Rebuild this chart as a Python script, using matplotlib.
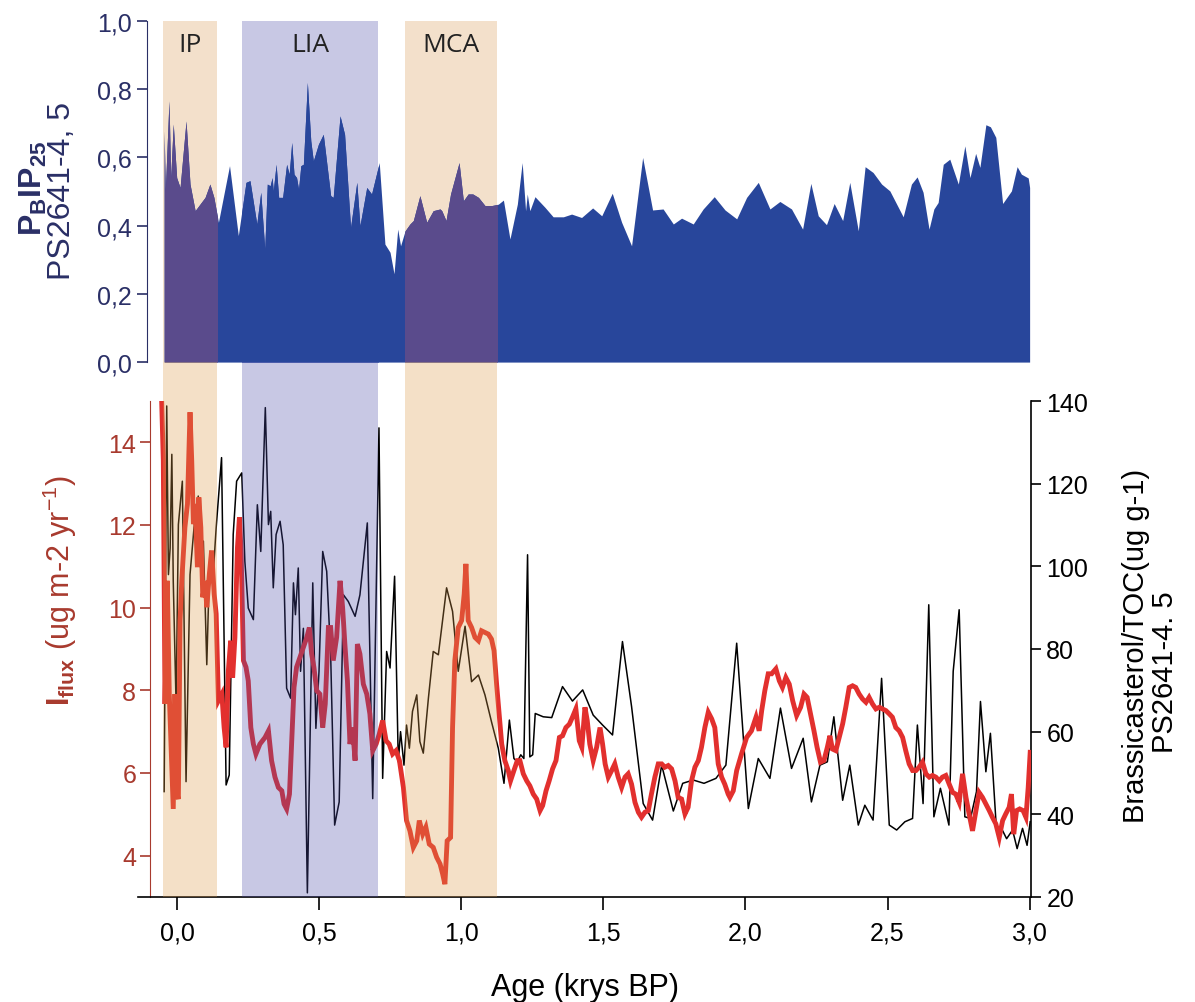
import numpy as np
import matplotlib
matplotlib.use('Agg')
import matplotlib.pyplot as plt
from matplotlib.patches import Rectangle

plt.rcParams['font.family'] = ['Liberation Sans', 'DejaVu Sans']
plt.rcParams['mathtext.fontset'] = 'custom'
plt.rcParams['mathtext.rm'] = 'Liberation Sans'
plt.rcParams['mathtext.bf'] = 'Liberation Sans:bold'
plt.rcParams['mathtext.it'] = 'Liberation Sans:italic'

#%% PBIP25, PS2641-4/5
pb_age = [-0.046, -0.042, -0.029, -0.023, -0.014, -0.002, 0.010, 0.031, 0.045, 0.063,
          0.080, 0.098, 0.115, 0.129, 0.145, 0.184, 0.215, 0.242, 0.256, 0.280,
          0.294, 0.308, 0.317, 0.327, 0.334, 0.338, 0.348, 0.357, 0.371, 0.385,
          0.394, 0.403, 0.411, 0.420, 0.427, 0.435, 0.444, 0.458, 0.470, 0.479,
          0.497, 0.514, 0.540, 0.549, 0.573, 0.589, 0.610, 0.632, 0.643, 0.667,
          0.684, 0.711, 0.731, 0.749, 0.763, 0.776, 0.786, 0.802, 0.819, 0.831,
          0.854, 0.878, 0.901, 0.925,
          0.931, 0.946, 0.962, 0.992, 1.007, 1.024, 1.040, 1.060, 1.083, 1.107,
          1.130, 1.148, 1.171, 1.197, 1.214, 1.226, 1.232, 1.241, 1.259, 1.294,
          1.323, 1.359, 1.388, 1.423, 1.462, 1.494, 1.531, 1.564, 1.599, 1.638,
          1.673, 1.710, 1.746, 1.775, 1.816, 1.851, 1.890, 1.928, 1.969,
          2.004, 2.045, 2.086, 2.121, 2.162, 2.201, 2.230, 2.256, 2.285, 2.312,
          2.342, 2.367, 2.397, 2.421, 2.449, 2.479, 2.508, 2.555, 2.584, 2.604,
          2.625, 2.646, 2.663, 2.678, 2.696, 2.719, 2.749, 2.772, 2.790, 2.810,
          2.825, 2.846, 2.862, 2.881, 2.905, 2.936, 2.956, 2.971, 2.995, 3.000]
pb_val = [0.678, 0.502, 0.766, 0.541, 0.698, 0.541, 0.512, 0.707, 0.522, 0.444,
          0.463, 0.483, 0.522, 0.483, 0.410, 0.576, 0.371, 0.527, 0.532, 0.405,
          0.498, 0.332, 0.522, 0.517, 0.541, 0.502, 0.580, 0.483, 0.483, 0.580,
          0.551, 0.644, 0.551, 0.541, 0.507, 0.576, 0.580, 0.820, 0.649, 0.590,
          0.639, 0.668, 0.488, 0.483, 0.722, 0.668, 0.395, 0.527, 0.400, 0.512,
          0.493, 0.585, 0.346, 0.322, 0.259, 0.390, 0.341, 0.385, 0.405, 0.415,
          0.488, 0.410, 0.444, 0.449,
          0.444, 0.415, 0.493, 0.585, 0.473, 0.493, 0.493, 0.483, 0.459, 0.459,
          0.463, 0.475, 0.361, 0.463, 0.585, 0.444, 0.493, 0.444, 0.485, 0.454,
          0.426, 0.426, 0.434, 0.424, 0.452, 0.429, 0.495, 0.410, 0.341, 0.600,
          0.446, 0.449, 0.405, 0.422, 0.405, 0.449, 0.485, 0.446, 0.420,
          0.483, 0.527, 0.449, 0.471, 0.449, 0.390, 0.524, 0.429, 0.403, 0.465,
          0.415, 0.527, 0.385, 0.573, 0.556, 0.522, 0.502, 0.426, 0.522, 0.543,
          0.498, 0.390, 0.449, 0.468, 0.580, 0.595, 0.522, 0.634, 0.541, 0.612,
          0.571, 0.696, 0.690, 0.659, 0.465, 0.502, 0.573, 0.551, 0.540, 0.512]

#%% Iflux (left axis)
iflux_age = [-0.055, -0.049, -0.043, -0.035, -0.028, -0.020, -0.014, -0.008, -0.002, 0.004,
             0.010, 0.016, 0.027, 0.036, 0.045, 0.051, 0.057, 0.063, 0.071, 0.076,
             0.083, 0.090, 0.098, 0.104, 0.113, 0.121, 0.130, 0.137, 0.145, 0.157,
             0.165, 0.172, 0.180, 0.188, 0.195, 0.203, 0.212, 0.219, 0.225, 0.233,
             0.242, 0.250, 0.259, 0.268, 0.277, 0.291, 0.309, 0.321, 0.332, 0.344,
             0.356, 0.368, 0.376, 0.385, 0.395, 0.403, 0.411, 0.420, 0.432, 0.444,
             0.456, 0.465, 0.473, 0.481, 0.491, 0.502, 0.512, 0.521, 0.532, 0.540,
             0.549, 0.561, 0.573, 0.582, 0.590, 0.599, 0.608, 0.617, 0.626, 0.634,
             0.643, 0.655, 0.667, 0.678, 0.688, 0.700, 0.711, 0.723, 0.735, 0.746,
             0.758, 0.770, 0.782, 0.796, 0.807, 0.819, 0.831, 0.843, 0.852, 0.864,
             0.875, 0.887, 0.901, 0.913, 0.925,
             0.934, 0.942, 0.950, 0.962, 0.969, 0.977, 0.989, 1.001, 1.010, 1.016,
             1.024, 1.036, 1.048, 1.060, 1.071, 1.083, 1.095, 1.106, 1.115, 1.124,
             1.133, 1.142, 1.153, 1.165, 1.173, 1.185, 1.197, 1.206, 1.218, 1.230,
             1.241, 1.253, 1.265, 1.277, 1.286, 1.298, 1.309, 1.321, 1.333, 1.345,
             1.356, 1.368, 1.380, 1.391, 1.403, 1.415, 1.424, 1.435, 1.443, 1.452,
             1.464, 1.476, 1.488, 1.497, 1.506, 1.517, 1.529, 1.540, 1.552, 1.564,
             1.576, 1.587, 1.599, 1.611, 1.623, 1.634, 1.646, 1.658, 1.669, 1.681,
             1.693, 1.705, 1.716, 1.728, 1.740, 1.752, 1.763, 1.775, 1.787, 1.798,
             1.810, 1.822, 1.834, 1.845, 1.857, 1.869, 1.881, 1.892, 1.904, 1.916,
             1.927, 1.939,
             1.945, 1.957, 1.969, 1.986, 2.004, 2.021, 2.037, 2.048, 2.057, 2.068,
             2.080, 2.092, 2.107, 2.119, 2.130, 2.142, 2.154, 2.166, 2.180, 2.194,
             2.206, 2.217, 2.229, 2.241, 2.252, 2.264, 2.276, 2.288, 2.297, 2.306,
             2.318, 2.330, 2.342, 2.353, 2.365, 2.377, 2.388, 2.400, 2.412, 2.424,
             2.435, 2.447, 2.459, 2.471, 2.482, 2.494, 2.506, 2.517, 2.529, 2.541,
             2.553, 2.564, 2.576, 2.588, 2.600, 2.611, 2.623, 2.635, 2.647, 2.658,
             2.670, 2.682, 2.693, 2.705, 2.717, 2.729, 2.740, 2.752, 2.764, 2.776,
             2.787, 2.799, 2.811, 2.822, 2.834, 2.846, 2.858, 2.869, 2.881, 2.893,
             2.905, 2.916, 2.928, 2.936, 2.944, 2.954, 2.965, 2.977, 2.987, 2.995,
             3.002]
iflux_val = [15.05, 13.56, 7.67, 10.65, 7.91, 6.30, 5.13, 7.91, 5.49, 5.37,
             9.69, 10.65, 11.94, 12.51, 14.73, 13.56, 12.02, 12.51, 10.98, 12.67,
             11.94, 10.25, 10.65, 10.01, 10.81, 11.38, 10.33, 9.85, 7.75, 7.91,
             7.10, 6.62, 8.48, 9.20, 8.31, 9.28, 11.46, 12.19, 11.30, 8.72,
             8.56, 8.23, 7.10, 6.70, 6.46, 6.70, 6.86, 7.02, 6.30, 5.90,
             5.65, 5.57, 5.25, 5.13, 5.49, 6.78, 8.07, 8.56, 8.80, 9.04,
             9.28, 9.52, 8.88, 8.56, 7.99, 7.91, 7.10, 7.67, 9.52, 9.52,
             8.72, 9.28, 10.65, 10.01, 9.12, 8.23, 6.70, 7.10, 6.30, 9.12,
             8.88, 8.15, 7.91, 7.43, 6.54, 6.70, 6.94, 7.27, 6.78, 6.70,
             6.46, 6.54, 6.30, 5.65, 4.85, 4.60, 4.20, 4.36, 4.85, 4.52,
             4.69, 4.28, 4.20, 3.96, 3.80,
             3.56, 3.31, 4.36, 4.44, 7.10, 8.72, 9.52, 9.69, 10.33, 11.06,
             9.69, 9.52, 9.28, 9.20, 9.44, 9.40, 9.36, 9.24, 8.96, 8.15,
             7.43, 6.70, 6.30, 6.06, 5.81, 6.06, 6.30, 6.30, 5.98, 5.81,
             5.69, 5.49, 5.37, 5.09, 5.21, 5.57, 5.81, 6.10, 6.30, 6.86,
             6.90, 7.10, 7.18, 7.35, 7.55, 6.78, 6.62, 7.59, 7.27, 6.70,
             6.30, 6.62, 7.10, 6.70, 6.22, 5.90, 6.06, 6.22, 5.90, 5.65,
             5.90, 5.98, 5.73, 5.29, 5.05, 4.93, 5.05, 5.09, 5.49, 5.90,
             6.22, 6.22, 6.14, 6.18, 6.10, 5.81, 5.41, 5.37, 5.01, 5.17,
             5.81, 6.14, 6.30, 6.62, 7.10, 7.47, 7.31, 7.10, 6.22, 5.90,
             5.73, 5.49,
             5.41, 5.57, 6.06, 6.46, 6.86, 7.02, 7.35, 7.02, 7.51, 7.99,
             8.40, 8.40, 8.52, 8.23, 8.07, 8.31, 8.15, 7.75, 7.39, 7.59,
             7.91, 7.83, 7.43, 7.02, 6.62, 6.26, 6.30, 6.62, 6.90, 6.58,
             6.54, 6.86, 7.19, 7.59, 8.07, 8.11, 8.07, 7.91, 7.79, 7.71,
             7.83, 7.67, 7.55, 7.59, 7.55, 7.51, 7.43, 7.35, 7.10, 7.02,
             6.86, 6.54, 6.22, 6.06, 6.06, 6.14, 6.26, 5.98, 5.90, 5.94,
             5.90, 5.81, 5.90, 5.94, 5.73, 5.53, 5.49, 5.29, 5.98, 5.41,
             5.01, 4.60, 5.09, 5.53, 5.41, 5.25, 5.09, 4.93, 4.77, 4.44,
             4.85, 5.01, 5.17, 5.49, 4.52, 5.09, 5.13, 5.09, 4.93, 5.65,
             6.50]

#%% Brassicasterol/TOC (right axis)
brass_age = [-0.046, -0.037, -0.031, -0.025, -0.019, -0.014, -0.004, 0.004, 0.018, 0.031,
             0.045, 0.059, 0.074, 0.083, 0.092, 0.104, 0.115, 0.125, 0.137, 0.156,
             0.172, 0.183, 0.197, 0.209, 0.227, 0.238, 0.250, 0.268, 0.282, 0.294,
             0.310, 0.321, 0.329, 0.338, 0.348, 0.362, 0.373, 0.385, 0.399, 0.409,
             0.416, 0.426, 0.434, 0.444, 0.458, 0.477, 0.488, 0.499, 0.512, 0.526,
             0.540, 0.554, 0.570, 0.585, 0.602, 0.626, 0.643, 0.669, 0.688, 0.710,
             0.723, 0.737, 0.749, 0.765, 0.778, 0.786, 0.798, 0.807, 0.817, 0.828,
             0.843, 0.854, 0.866, 0.884, 0.901, 0.919,
             0.948, 0.969, 0.989, 1.013, 1.036, 1.060, 1.083, 1.106, 1.130, 1.150,
             1.169, 1.185, 1.197, 1.209, 1.220, 1.233, 1.241, 1.251, 1.260, 1.288,
             1.318, 1.356, 1.391, 1.427, 1.464, 1.497, 1.532, 1.567, 1.599, 1.640,
             1.673, 1.705, 1.746, 1.779, 1.816, 1.854, 1.896, 1.931,
             1.969, 2.010, 2.045, 2.086, 2.123, 2.162, 2.203, 2.232, 2.262, 2.288,
             2.311, 2.342, 2.367, 2.397, 2.420, 2.449, 2.479, 2.506, 2.532, 2.561,
             2.588, 2.605, 2.625, 2.645, 2.663, 2.686, 2.716, 2.731, 2.752, 2.772,
             2.792, 2.813, 2.827, 2.846, 2.862, 2.883, 2.898, 2.919, 2.940, 2.956,
             2.975, 2.991, 3.002]
brass_val = [45.5, 138.8, 98.0, 104.4, 127.1, 96.4, 66.5, 110.1, 120.6, 47.9,
             98.0, 109.3, 117.0, 101.2, 106.1, 76.2, 103.6, 96.4, 109.3, 126.3,
             47.1, 49.5, 107.7, 120.6, 122.6, 101.2, 89.9, 87.1, 114.9, 103.6,
             138.4, 110.1, 113.3, 94.8, 107.7, 110.9, 105.2, 70.5, 68.1, 96.0,
             88.3, 99.6, 74.6, 85.0, 21.0, 96.0, 60.8, 74.6, 103.6, 98.8,
             78.6, 37.4, 43.0, 93.1, 91.5, 87.9, 93.1, 110.5, 43.8, 133.5,
             48.7, 79.4, 75.4, 97.6, 52.7, 60.0, 51.9, 61.6, 56.0, 64.9,
             68.9, 57.6, 54.8, 68.1, 79.4, 78.6,
             94.8, 89.1, 74.6, 85.5, 72.1, 73.7, 68.9, 62.4, 56.0, 47.5,
             62.8, 53.5, 52.7, 54.4, 53.5, 102.8, 53.9, 54.4, 64.4, 63.6,
             63.4, 70.9, 67.4, 70.1, 64.0, 61.6, 59.2, 81.8, 66.1, 42.6,
             38.6, 51.9, 40.8, 47.5, 48.3, 47.5, 48.7, 51.9,
             81.4, 41.4, 53.5, 48.7, 65.7, 51.1, 58.4, 43.0, 51.9, 52.7,
             63.6, 43.4, 51.9, 37.4, 42.2, 38.6, 72.9, 37.4, 36.2, 38.2,
             39.0, 61.6, 42.6, 90.7, 39.4, 46.3, 37.4, 74.6, 89.5, 39.4,
             39.0, 45.5, 67.3, 50.3, 59.6, 36.6, 37.0, 34.1, 36.2, 31.7,
             36.6, 32.5, 38.2]

# climate periods (kyr BP)
periods = ['IP', 'LIA', 'MCA']
period_start = [-0.050, 0.229, 0.803]
period_end = [0.140, 0.707, 1.125]
period_tint = ['#DC9A48', '#4A4AA8', '#DC9A48']   # overlay colour (alpha 0.3)
period_bg = ['#F3E0CB', '#C8C8E4', '#F3E0CB']     # same colour as seen on white
period_fill = ['#5A4B8C', '#28469B', '#5A4B8C']   # PBIP25 fill inside the period

navy = '#2A2F66'
darkred = '#A83A2E'
xlim = (-0.138, 3.005)

fig = plt.figure(figsize=(11.95, 10.03), dpi=100)

#%% top panel
ax1 = fig.add_axes([0.1155, 0.638, 0.7473, 0.340])
for x0, x1, bg in zip(period_start, period_end, period_bg):
    ax1.axvspan(x0, x1, color=bg, lw=0, zorder=0)
ax1.fill_between(pb_age, 0, pb_val, color='#28469B', lw=0, zorder=1)
for x0, x1, fc in zip(period_start, period_end, period_fill):
    poly = ax1.fill_between(pb_age, 0, pb_val, color=fc, lw=0, zorder=2)
    clip = Rectangle((x0, 0), x1 - x0, 1, transform=ax1.transData)
    poly.set_clip_path(clip)

ax1.set_xlim(xlim)
ax1.set_ylim(0, 1)
ax1.set_yticks(np.arange(0, 1.01, 0.2))
ax1.set_yticklabels(['0,0', '0,2', '0,4', '0,6', '0,8', '1,0'])
for s in ['top', 'right', 'bottom']:
    ax1.spines[s].set_visible(False)
ax1.spines['left'].set_position(('data', -0.105))
ax1.spines['left'].set_color(navy)
ax1.tick_params(axis='y', colors=navy, labelsize=18, length=7, width=1.2,
                direction='out', pad=4)
ax1.set_xticks([])
ax1.patch.set_visible(False)

fig.text(0.028, 0.812, r'$\mathbf{P_{B}IP_{25}}$', rotation=90, ha='center', va='center',
         fontsize=23, color=navy)
fig.text(0.052, 0.810, 'PS2641-4, 5', rotation=90, ha='center', va='center',
         fontsize=23, color=navy)

#%% bottom panel
ax2 = fig.add_axes([0.1155, 0.1047, 0.7473, 0.4945])
ax3 = ax2.twinx()
ax2.set_zorder(ax3.get_zorder() + 1)
ax2.patch.set_visible(False)

ax3.plot(brass_age, brass_val, color='black', lw=1.1)
ax2.plot(iflux_age, iflux_val, color='#E2302E', lw=3.5, solid_joinstyle='miter')

ax2.set_xlim(xlim)
ax2.set_ylim(3, 15)
ax3.set_ylim(20, 140)
ax2.set_yticks([4, 6, 8, 10, 12, 14])
ax3.set_yticks([20, 40, 60, 80, 100, 120, 140])
ax2.set_xticks([0, 0.5, 1.0, 1.5, 2.0, 2.5, 3.0])
ax2.set_xticklabels(['0,0', '0,5', '1,0', '1,5', '2,0', '2,5', '3,0'])

for a in (ax2, ax3):
    a.spines['top'].set_visible(False)
ax2.spines['right'].set_visible(False)
ax3.spines['left'].set_visible(False)
ax3.spines['bottom'].set_visible(False)
ax2.spines['left'].set_position(('data', -0.095))
ax2.spines['left'].set_color(darkred)
ax2.spines['bottom'].set_linewidth(1.2)
ax3.spines['right'].set_linewidth(1.2)
ax2.tick_params(axis='y', colors=darkred, labelsize=18, length=7, width=1.2, pad=3)
ax2.tick_params(axis='x', colors='black', labelsize=18, length=9, width=1.2, pad=8)
ax3.tick_params(axis='y', colors='black', labelsize=18, length=7, width=1.2, pad=4)

ax2.set_xlabel('Age (krys BP)', fontsize=22, labelpad=20)

fig.text(0.050, 0.411, r'$\mathbf{I_{flux}}$ (ug m-2 yr$^{-1}$)', rotation=90,
         ha='center', va='center', fontsize=22, color=darkred)
fig.text(0.951, 0.356, 'Brassicasterol/TOC(ug g-1)', rotation=90,
         ha='center', va='center', fontsize=21, color='black')
fig.text(0.975, 0.330, 'PS2641-4. 5', rotation=90,
         ha='center', va='center', fontsize=21, color='black')

#%% period shading below the top panel (gap + bottom panel)
axb = fig.add_axes([0.1155, 0.1047, 0.7473, 0.638 - 0.1047], zorder=10)
axb.set_xlim(xlim)
axb.set_ylim(0, 1)
axb.axis('off')
for x0, x1, col in zip(period_start, period_end, period_tint):
    axb.axvspan(x0, x1, color=col, alpha=0.3, lw=0)

for name, x0, x1 in zip(periods, period_start, period_end):
    ax1.text((x0 + x1) / 2, 0.93, name, ha='center', va='center', fontsize=19,
             color='#222222', family=['Open Sans', 'DejaVu Sans'], zorder=5)

plt.savefig('out.png', dpi=100)
